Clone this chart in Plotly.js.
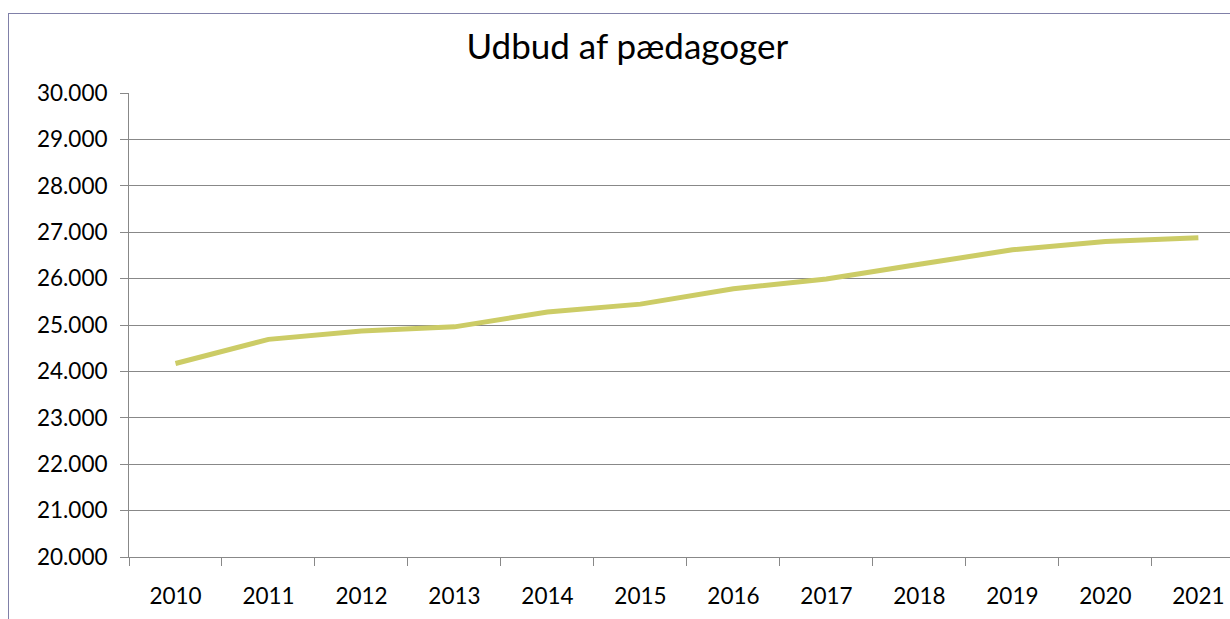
<!DOCTYPE html>
<html>
<head>
<meta charset="utf-8">
<script src="https://cdn.plot.ly/plotly-3.0.1.min.js"></script>
<style>
  body { margin: 0; background: #fff; }
  #frame { position: absolute; left: 8px; top: 13px; width: 1300px; height: 700px;
           border-left: 1px solid #8080a8; border-top: 1px solid #8080a8; pointer-events: none; }
</style>
</head>
<body>
<div id="myViz" style="width:1230px;height:619px;"></div>
<div id="frame"></div>
<script>
var years = ['2010','2011','2012','2013','2014','2015','2016','2017','2018','2019','2020','2021'];
var supply = [24170, 24690, 24870, 24960, 25280, 25450, 25780, 25990, 26310, 26620, 26800, 26880];

var line = {
    x: years,
    y: supply,
    type: 'scatter',
    mode: 'lines',
    name: 'Udbud',
    line: { color: 'rgb(204,204,102)', width: 5 }
};

var layout = {
    width: 1230,
    height: 619,
    margin: { l: 129, r: 0, t: 93, b: 62 },
    paper_bgcolor: '#fff',
    plot_bgcolor: '#fff',
    showlegend: false,
    separators: ',.',
    font: { family: 'Lato, "Open Sans", sans-serif', size: 22.5, color: '#000' },
    title: {
        text: 'Udbud af pædagoger',
        font: { size: 35 },
        x: 0.51, xref: 'container', xanchor: 'center',
        y: 1 - 47 / 619, yref: 'container', yanchor: 'middle'
    },
    xaxis: {
        type: 'category',
        range: [-0.5, 11.34],
        tickson: 'boundaries',
        ticks: 'outside', ticklen: 8, tickcolor: '#888',
        showline: true, linecolor: '#888', linewidth: 1,
        showgrid: false, zeroline: false,
        ticklabelstandoff: 19
    },
    yaxis: {
        range: [20000, 30000],
        dtick: 1000,
        tickformat: ',.0f',
        ticks: 'outside', ticklen: 8, tickcolor: '#888',
        showline: true, linecolor: '#888', linewidth: 1,
        gridcolor: '#888', gridwidth: 1,
        zeroline: false,
        ticklabelstandoff: 8
    }
};

Plotly.newPlot('myViz', [line], layout, { displayModeBar: false, staticPlot: true });
</script>
</body>
</html>
